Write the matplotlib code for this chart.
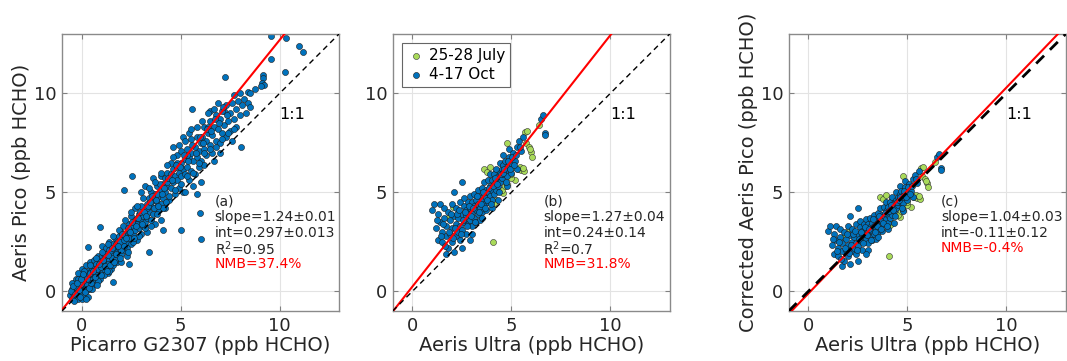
import numpy as np
import matplotlib
matplotlib.use("Agg")
import matplotlib.pyplot as plt

# panel (a): Picarro G2307 vs Aeris Pico
a_x = [-0.6, -0.5, -0.4, -0.4, -0.3, -0.3, -0.2, -0.2, -0.1, -0.1, 0.0, 0.0, 0.0, 0.0, 0.1, 0.1, 0.1, 0.2, 0.2, 0.2,
       0.3, 0.3, 0.3, 0.4, 0.4, 0.4, 0.5, 0.5, 0.5, -0.5, -0.2, 0.05, 0.15, 0.25, 0.35, -0.35, -0.15, 0.45, 0.0, 0.2,
       0.6, 0.6, 0.6, 0.7, 0.7, 0.7, 0.8, 0.8, 0.8, 0.9, 0.9, 0.9, 1.0, 1.0, 1.0, 1.0, 1.1, 1.1, 1.2, 1.2,
       1.2, 1.3, 1.3, 1.3, 1.4, 1.4, 1.4, 1.5, 1.5, 1.5, 0.3, 0.9, 2.4, 1.6,
       1.6, 1.6, 1.6, 1.7, 1.7, 1.8, 1.8, 1.8, 1.9, 1.9, 2.0, 2.0, 2.0, 2.1, 2.1, 2.2, 2.2, 2.15, 2.3, 2.3,
       2.4, 2.4, 2.5, 2.5, 2.5, 2.6, 2.6, 2.7, 2.7, 2.7, 2.8, 2.8, 2.9, 2.9, 3.0, 3.0, 3.0, 2.55, 2.0, 2.3, 3.4,
       3.1, 3.1, 3.2, 3.2, 3.3, 3.3, 3.3, 3.4, 3.4, 3.5, 3.5, 3.5, 3.6, 3.6, 3.7, 3.7, 3.7, 3.8, 3.8, 3.9,
       3.9, 4.0, 4.0, 4.0, 4.0, 4.1, 4.1, 4.2, 4.2, 4.2, 4.3, 4.3, 4.4, 4.4, 4.5, 4.5, 4.5, 3.2, 3.6, 4.1, 3.0,
       4.6, 4.6, 4.7, 4.7, 4.8, 4.8, 4.8, 4.9, 4.9, 5.0, 5.0, 5.0, 5.1, 5.1, 5.2, 5.2, 5.3, 5.3, 5.4, 5.4,
       5.5, 5.5, 5.5, 5.6, 5.7, 5.7, 5.8, 5.8, 5.9, 5.9, 6.0, 6.0, 5.57, 5.02, 5.95, 6.03, 5.2, 5.6, 5.8, 6.0,
       5.4, 5.1, 4.6,
       6.1, 6.2, 6.2, 6.3, 6.3, 6.4, 6.5, 6.5, 6.6, 6.6, 6.7, 6.8, 6.8, 6.9, 7.0, 7.0, 7.1, 7.2, 7.2, 7.3,
       7.3, 7.4, 7.5, 7.5, 7.6, 7.7, 7.8, 7.8, 7.9, 8.0, 8.06, 8.1, 8.2, 8.3, 8.4, 8.5, 7.26, 6.5, 6.9, 7.6,
       6.2, 6.7, 7.0,
       8.73, 8.4, 9.15, 9.15, 9.12, 9.19, 9.07, 9.55, 9.55, 10.34, 10.29, 11.0, 11.2, 8.5, 8.0,
       -0.3, 0.1, 0.4, 0.7, 1.1, 1.4, 1.9, 2.4, 2.8, 3.3, 3.8, 4.3, 4.8, 5.3, 6.4, 7.1, 7.7,
       -0.45, -0.25, -0.05, 0.15, 0.35, 0.55, 0.75, 0.95, 1.15, 1.35, 1.55, 1.75, 1.95, 2.15, 2.35, 2.55,
       2.75, 2.95, 3.15, 3.35, 3.55, 3.75, 3.95, 4.15, 4.35, 4.55, 4.75, 4.95, 5.15, 5.35, 5.55, 5.75,
       5.95, 6.15, 6.35, 6.55, 6.75, 6.95, 7.15, 7.35,
       -0.4, -0.1, 0.2, 0.5, 0.8, 1.1, 1.4, 1.7, 2.0, 2.3, 2.6, 2.9, 3.2, 3.5, 3.8, 4.1, 4.4, 4.7, 5.0, 5.3,
       5.6, 5.9, 6.2, 6.5, 6.8, 7.1, 7.4, 7.7,
       -0.5, -0.2, 0.1, 0.4, 0.7, 1.0, 1.3, 1.6, 1.9, 2.2, 2.5, 2.8, 3.1, 3.4, 3.7, 4.0, 4.3, 4.6, 4.9, 5.2,
       5.5, 5.8, 6.1, 6.4, 6.7,
       -0.55, -0.45, -0.35, -0.25, -0.15, -0.05, 0.05, 0.15, 0.25, 0.35, 0.45, 0.55, 0.65, 0.75, 0.85, 0.95,
       1.05, 1.15, 1.25, 1.35, 1.45, 1.55, 1.65, 1.75, 1.85, 1.95, 2.05, 2.15, 2.25, 2.35, 2.45, 2.65,
       2.85, 3.05, 3.25, 3.45, 3.65, 3.85, 4.05, 4.25]
a_y = [-0.2, 0.1, -0.3, 0.4, 0.0, 0.6, -0.4, 0.3, 0.8, -0.1, 0.2, -0.4, 0.5, 1.1, -0.2, 0.7, 0.3, 0.0, 0.9, 1.3,
       0.4, -0.3, 1.0, 0.6, 0.1, 1.5, 0.8, 0.3, 1.2, -0.4, 0.9, 0.0, 0.45, 0.65, 0.85, 0.2, 0.5, 1.0, -0.2, -0.4,
       0.5, 1.0, 1.6, 0.9, 0.4, 1.4, 1.2, 0.7, 1.8, 1.0, 1.5, 0.6, 1.3, 1.8, 0.9, 2.3, 1.5, 1.1, 1.7, 1.3,
       2.2, 1.9, 1.2, 0.9, 1.6, 2.1, 2.5, 1.4, 2.0, 1.1, 2.24, 3.25, 1.39, 0.46,
       1.8, 2.4, 1.3, 2.1, 2.7, 2.0, 2.5, 1.5, 2.8, 2.2, 2.6, 3.0, 1.9, 2.4, 3.3, 2.8, 2.1, 5.12, 3.0, 2.5,
       3.4, 2.7, 3.1, 3.8, 2.4, 3.3, 2.9, 3.6, 3.1, 4.2, 3.4, 2.6, 3.9, 3.2, 3.6, 4.3, 2.9, 5.8, 1.5, 1.8, 1.98,
       3.8, 3.3, 4.1, 3.5, 4.4, 3.7, 3.0, 4.0, 4.7, 4.3, 3.6, 5.0, 4.6, 3.9, 4.9, 4.2, 3.4, 4.5, 5.3, 4.8,
       4.1, 5.1, 4.4, 5.8, 3.6, 5.4, 4.7, 5.0, 5.7, 4.2, 5.3, 6.0, 5.6, 4.6, 5.9, 5.2, 6.5, 5.3, 5.7, 3.1, 5.0,
       5.5, 6.2, 5.8, 4.9, 6.3, 5.6, 6.9, 6.0, 5.2, 6.5, 5.8, 7.1, 6.2, 5.0, 6.7, 5.9, 7.2, 6.3, 6.8, 5.6,
       7.0, 6.1, 7.7, 6.6, 7.3, 5.9, 6.8, 7.8, 7.1, 6.3, 7.5, 6.6, 9.19, 3.09, 3.93, 2.66, 5.0, 5.3, 4.9, 5.5,
       8.0, 7.8, 7.3,
       7.8, 7.2, 8.3, 7.6, 6.9, 8.0, 7.4, 8.6, 7.9, 7.0, 8.3, 7.6, 8.9, 8.2, 7.5, 8.7, 8.0, 9.1, 8.4, 7.8,
       9.4, 8.6, 9.0, 8.1, 9.5, 8.7, 9.2, 8.3, 9.6, 8.9, 7.29, 9.4, 9.7, 9.0, 9.5, 9.3, 10.81, 9.1, 9.5, 7.6,
       6.4, 6.6, 7.0,
       10.2, 10.09, 10.93, 10.76, 10.5, 10.42, 10.37, 11.73, 12.88, 12.8, 11.1, 12.4, 12.07, 10.0, 10.0,
       0.2, 0.0, 0.9, 1.1, 1.9, 1.3, 2.5, 3.0, 3.7, 4.2, 4.9, 5.5, 6.5, 6.9, 8.3, 9.1, 9.9,
       -0.1, 0.15, 0.35, 0.1, 0.55, 0.6, 1.1, 1.2, 1.9, 1.4, 1.7, 2.4, 2.5, 2.6, 3.2, 3.5,
       3.3, 4.0, 4.0, 4.3, 4.8, 4.6, 5.4, 5.2, 5.7, 5.6, 6.4, 6.3, 6.9, 6.6, 7.4, 7.0,
       7.8, 7.5, 8.2, 8.1, 8.7, 8.5, 9.3, 8.9,
       -0.5, -0.3, 0.2, 0.1, 0.5, 0.8, 1.0, 1.6, 2.1, 2.2, 2.5, 2.8, 3.2, 3.3, 3.9, 4.2, 4.8, 5.1, 5.4, 5.8,
       6.0, 6.5, 7.0, 7.2, 7.3, 7.7, 8.0, 8.2,
       0.4, 0.6, 1.0, 1.3, 1.7, 2.0, 2.4, 2.8, 3.1, 3.6, 4.0, 4.3, 4.7, 5.2, 5.5, 6.0, 6.4, 6.8, 7.4, 7.6,
       8.2, 8.3, 8.6, 9.0, 9.2,
       0.0, 0.25, -0.15, 0.4, 0.05, 0.6, 0.85, -0.05, 0.3, 0.15, 0.4, 1.0, 0.7, 0.3, 1.4, 0.8,
       1.6, 1.25, 1.0, 1.85, 1.3, 2.2, 1.5, 1.9, 2.3, 1.7, 2.9, 2.3, 2.7, 2.0, 3.0, 2.7,
       3.7, 3.4, 3.8, 4.5, 4.2, 4.3, 4.9, 4.5]

# panel (b): Aeris Ultra vs Aeris Pico, two campaigns
july_x = [5.7, 5.8, 4.8, 5.75, 5.9, 6.0, 6.05, 5.95, 3.6, 3.75, 3.9, 4.2, 5.35, 5.5, 5.65, 5.45, 5.6, 5.2, 5.0,
          4.6, 4.5, 4.2, 4.1, 3.9, 1.8, 2.05, 4.05, 4.4, 4.7, 5.1, 6.4, 5.0, 4.8]
july_y = [8.05, 8.1, 7.5, 7.5, 7.3, 7.05, 6.8, 7.2, 6.2, 6.05, 6.3, 6.1, 6.2, 6.15, 6.1, 6.3, 6.25, 5.6, 5.7,
          4.95, 5.1, 4.6, 4.45, 4.6, 3.7, 4.25, 2.5, 5.6, 5.3, 6.3, 8.4, 5.9, 5.4]
oct_x = [1.0, 1.1, 1.2, 1.3, 1.3, 1.4, 1.4, 1.5, 1.5, 1.6, 1.6, 1.7, 1.7, 1.7, 1.8, 1.8, 1.9, 1.9, 2.0, 2.0,
         2.0, 2.1, 2.1, 2.2, 2.2, 2.2, 2.3, 2.3, 2.4, 2.4, 2.4, 2.5, 2.5, 2.5, 2.6, 2.6, 2.6, 2.7, 2.7, 2.7,
         2.8, 2.8, 2.8, 2.9, 2.9, 2.9, 3.0, 3.0, 3.0, 3.1, 3.1, 3.1, 3.2, 3.2, 3.2, 3.3, 3.3, 3.3, 3.4, 3.4,
         3.4, 3.5, 3.5, 3.5, 3.6, 3.6, 3.6, 3.7, 3.7, 3.7, 3.8, 3.8, 3.8, 3.9, 3.9, 3.9, 4.0, 4.0, 4.0, 4.1,
         4.1, 4.1, 4.2, 4.2, 4.2, 4.3, 4.3, 4.4, 4.4, 4.4, 4.5, 4.5, 4.6, 4.6, 4.6, 4.7, 4.7, 4.8, 4.8, 4.9,
         4.9, 5.0, 5.0, 5.1, 5.2, 5.3, 5.3, 5.4, 5.5, 5.6, 6.5, 6.6, 6.7, 6.7, 4.0, 3.5, 3.0, 2.5, 2.1, 4.3,
         4.8, 2.9,
         1.25, 1.45, 1.55, 1.65, 1.85, 1.95, 2.05, 2.15, 2.25, 2.35, 2.45, 2.55, 2.65, 2.75, 2.85, 2.95,
         3.05, 3.15, 3.25, 3.35, 3.45, 3.55, 3.65, 3.75, 3.85, 3.95, 4.05, 4.15, 4.25, 4.35, 4.45, 4.55,
         4.65, 4.75, 4.85, 4.95, 5.05, 5.25, 5.45, 5.15]
oct_y = [4.1, 4.4, 3.2, 3.9, 2.6, 3.5, 4.4, 3.0, 2.5, 3.7, 4.2, 1.9, 2.8, 3.3, 4.0, 2.2, 3.6, 2.9, 3.2, 4.4,
         2.5, 3.8, 5.0, 2.8, 3.4, 4.2, 3.0, 3.7, 4.5, 3.3, 2.6, 5.5, 3.9, 3.1, 4.3, 3.5, 4.7, 3.8, 2.9, 4.1,
         4.5, 3.4, 3.9, 4.2, 3.6, 4.8, 4.0, 3.3, 4.5, 4.3, 3.7, 4.9, 4.1, 3.5, 4.6, 4.4, 3.9, 5.1, 4.2, 4.8,
         3.6, 4.6, 5.2, 4.0, 4.9, 4.4, 5.5, 4.7, 5.1, 4.1, 5.0, 5.6, 4.5, 5.3, 4.8, 5.9, 5.1, 5.6, 4.6, 5.4,
         5.9, 4.9, 5.6, 6.2, 5.1, 5.8, 5.3, 6.0, 6.5, 5.5, 6.2, 5.7, 6.4, 5.9, 6.9, 6.1, 6.6, 6.3, 5.8, 6.8,
         7.2, 6.5, 6.0, 7.0, 6.6, 7.3, 6.2, 7.6, 7.1, 7.8, 8.7, 8.9, 8.0, 7.9, 4.2, 3.7, 2.9, 2.2, 2.0, 4.6,
         5.3, 2.6,
         3.6, 2.8, 3.4, 2.3, 3.0, 3.9, 2.7, 3.2, 3.9, 4.1, 2.9, 3.6, 4.0, 3.3, 4.3, 3.8,
         4.2, 3.5, 4.8, 4.0, 4.4, 5.0, 4.2, 4.6, 5.2, 4.4, 5.3, 5.7, 5.4, 5.0, 5.9, 6.0,
         6.2, 5.5, 6.6, 6.2, 6.8, 6.9, 7.3, 6.4]

# correction derived from the (a) fit, applied to the Pico data of (b)
fit_slope_a = 1.24
fit_int_a = 0.297

panels = [
    dict(tag="(a)", xlabel="Picarro G2307 (ppb HCHO)", ylabel="Aeris Pico (ppb HCHO)",
         fit=(1.24, 0.297), stats=["slope=1.24\u00b10.01", "int=0.297\u00b10.013", "R$^2$=0.95"],
         nmb="NMB=37.4%"),
    dict(tag="(b)", xlabel="Aeris Ultra (ppb HCHO)", ylabel=None,
         fit=(1.27, 0.24), stats=["slope=1.27\u00b10.04", "int=0.24\u00b10.14", "R$^2$=0.7"],
         nmb="NMB=31.8%"),
    dict(tag="(c)", xlabel="Aeris Ultra (ppb HCHO)", ylabel="Corrected Aeris Pico (ppb HCHO)",
         fit=(1.04, -0.11), stats=["slope=1.04\u00b10.03", "int=-0.11\u00b10.12"],
         nmb="NMB=-0.4%"),
]

BLUE = "#0072BD"
GREEN = "#A9DA5A"
TXT = "#262626"
lefts = [62, 392.7, 788.7]

fig = plt.figure(figsize=(10.67, 3.61), dpi=100)
lim = (-1, 13)
line_x = np.array(lim)

for i, p in enumerate(panels):
    ax = fig.add_axes([lefts[i] / 1067, 50 / 361, 277 / 1067, 277 / 361])
    ax.set_xlim(lim)
    ax.set_ylim(lim)
    ax.grid(True, color="#e3e3e3", lw=0.8)
    ax.set_axisbelow(True)
    ms = 19
    if i == 0:
        ax.scatter(a_x, a_y, s=ms, c=BLUE, edgecolors="#1a1a1a", linewidths=0.4, zorder=2)
    else:
        jy = np.array(july_y)
        oy = np.array(oct_y)
        if i == 2:
            jy = (jy - fit_int_a) / fit_slope_a
            oy = (oy - fit_int_a) / fit_slope_a
        ax.scatter(july_x, jy, s=ms, c=GREEN, edgecolors="#333333", linewidths=0.4, zorder=2,
                   label="25-28 July")
        ax.scatter(oct_x, oy, s=ms, c=BLUE, edgecolors="#1a1a1a", linewidths=0.4, zorder=2,
                   label="4-17 Oct")
    s, b = p["fit"]
    ax.plot(line_x, s * line_x + b, color="red", lw=1.5, zorder=3)
    ax.plot(line_x, line_x, color="black", ls=(0, (4, 3)), lw=2.0 if i == 2 else 1.0, zorder=4 if i == 2 else 3)

    ax.text(10, 8.95, "1:1", fontsize=11.5, color="black", va="center")
    lines = [p["tag"]] + p["stats"]
    ys = [4.52, 3.73, 2.95, 2.16, 1.39]
    tx = [6.71, 6.61, 6.7][i]
    for k, t in enumerate(lines):
        ax.text(tx, ys[k], t, fontsize=10, color=TXT, va="center")
    ax.text(tx, ys[len(lines)], p["nmb"], fontsize=10, color="red", va="center")

    ax.set_xticks([0, 5, 10])
    ax.set_yticks([0, 5, 10])
    ax.tick_params(direction="in", length=3.5, width=0.8, top=True, right=True,
                   labelsize=13, colors="#808080", labelcolor=TXT, pad=4)
    for sp in ax.spines.values():
        sp.set_color("#8a8a8a")
        sp.set_linewidth(1.0)
    ax.set_xlabel(p["xlabel"], fontsize=14, color=TXT, labelpad=1)
    if p["ylabel"]:
        ax.set_ylabel(p["ylabel"], fontsize=14, color=TXT, labelpad=2)
    if i == 1:
        leg = ax.legend(loc="upper left", fontsize=11, frameon=True, fancybox=False,
                        edgecolor="#666666", framealpha=1, handletextpad=0.3,
                        borderaxespad=0.6, markerscale=1.0, handlelength=1.2,
                        borderpad=0.3, labelspacing=0.3)
        leg.get_frame().set_linewidth(0.8)

fig.savefig("out.png", dpi=100)
